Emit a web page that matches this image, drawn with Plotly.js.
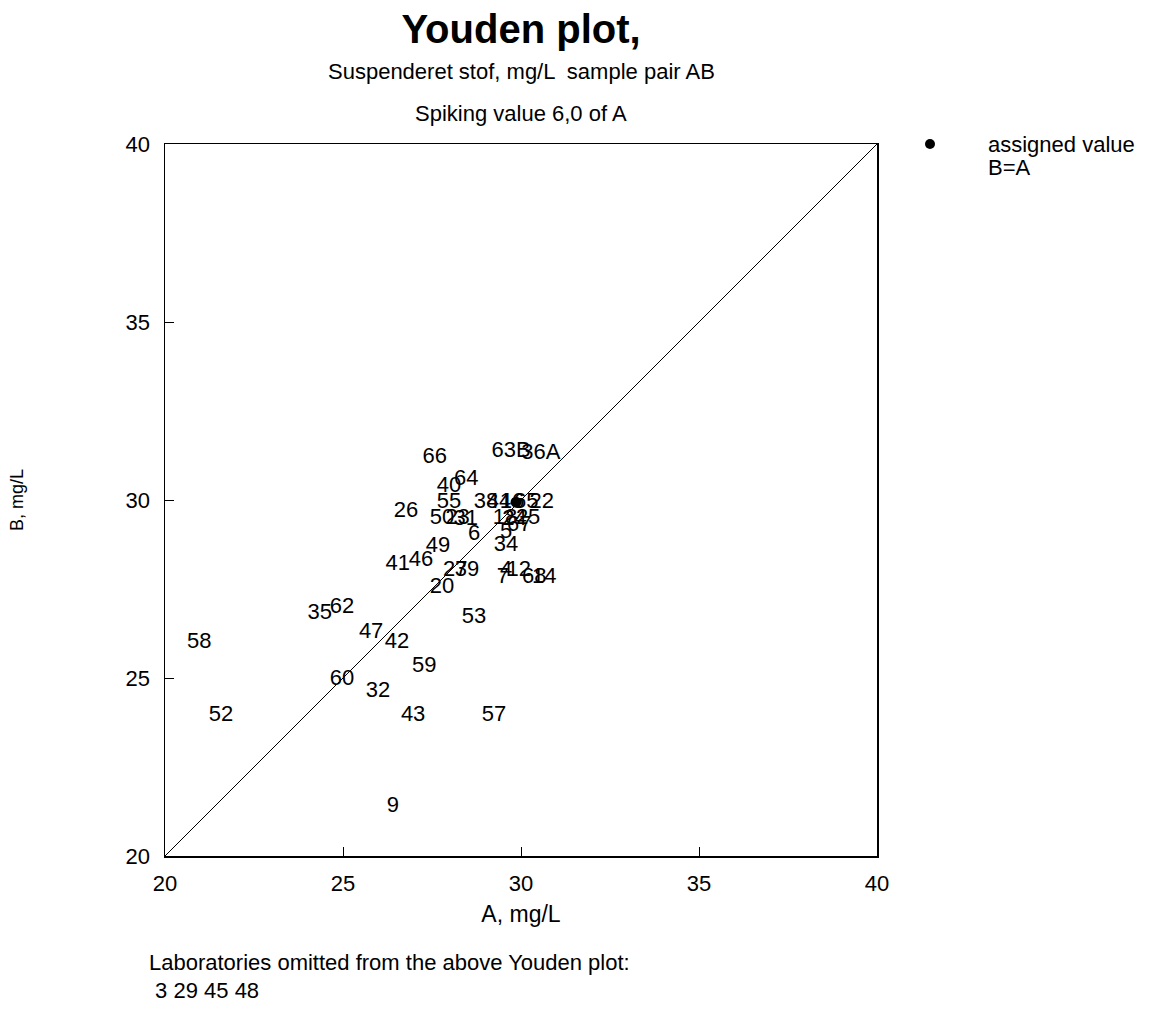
<!DOCTYPE html>
<html>
<head>
<meta charset="utf-8">
<script src="https://cdn.plot.ly/plotly-3.0.1.min.js"></script>
<style>html,body{margin:0;padding:0;background:#fff;}#chart{width:1149px;height:1011px;}</style>
</head>
<body>
<div id="chart"></div>
<script>
// Laboratory results (A, B) and their labels
const labLabels = ["66","63B","36A","64","40","55","26","50","23","31","6",
  "38","44","16","65","22","18","24","25","5","67",
  "34","49","41","46","27","39","20","4","12","7","68","14",
  "53","35","62","47","42","58","59","60","32","52","43","57","9"];
const labA = [27.58,29.72,30.56,28.46,27.98,27.98,26.77,27.78,28.22,28.45,28.68,
  29.02,29.38,29.75,30.15,30.58,29.55,29.82,30.2,29.58,29.95,
  29.58,27.67,26.54,27.19,28.15,28.48,27.78,29.58,29.94,29.49,30.37,30.65,
  28.68,24.35,24.97,25.79,26.52,20.96,27.28,24.97,25.98,21.57,26.97,29.24,26.4];
const labB = [31.18,31.35,31.32,30.59,30.37,29.94,29.69,29.47,29.47,29.45,29.02,
  29.94,29.94,29.94,29.94,29.94,29.47,29.45,29.47,29.08,29.28,
  28.71,28.68,28.2,28.31,28.01,28.01,27.53,28.03,28.03,27.81,27.81,27.81,
  26.69,26.8,26.99,26.29,26.01,26.01,25.31,24.97,24.61,23.96,23.96,23.96,21.38];
const assignedA = [29.86];
const assignedB = [29.94];
const axisRange = [20, 40];
const tickVals = [20, 25, 30, 35, 40];
const omittedLabs = ["3","29","45","48"];

const FONT = "Liberation Sans, Arial, sans-serif";

const traces = [
  {x: axisRange, y: axisRange, mode: "lines", line: {color: "#000", width: 1}, hoverinfo: "skip", showlegend: false},
  {x: labA, y: labB, text: labLabels, mode: "text", textposition: "middle center",
   textfont: {family: FONT, size: 22, color: "#000"}, showlegend: false, cliponaxis: false},
  {x: assignedA, y: assignedB, mode: "markers", marker: {color: "#000", size: 11}, showlegend: false}
];

const axisCommon = {
  range: axisRange, tickvals: tickVals, ticktext: tickVals.map(String),
  ticks: "inside", ticklen: 9, tickwidth: 1, tickcolor: "#000",
  showline: true, linecolor: "#000", linewidth: 1.5, mirror: true,
  showgrid: false, zeroline: false,
  tickfont: {family: FONT, size: 22, color: "#000"}
};

const layout = {
  width: 1149, height: 1011,
  paper_bgcolor: "#fff", plot_bgcolor: "#fff",
  margin: {l: 165, r: 272, t: 144, b: 155},
  showlegend: false,
  title: {text: "<b>Youden plot,</b>", x: 521/1149, xanchor: "center", xref: "container",
          y: 1 - 29/1011, yanchor: "middle", yref: "container",
          font: {family: FONT, size: 40, color: "#000"}},
  xaxis: Object.assign({}, axisCommon, {
    title: {text: "A, mg/L", font: {family: FONT, size: 23, color: "#000"}, standoff: 11},
    ticklabelstandoff: 7
  }),
  yaxis: Object.assign({}, axisCommon, {
    title: {text: "B, mg/L", font: {family: FONT, size: 18, color: "#000"}, standoff: 97},
    ticklabelstandoff: 9
  }),
  shapes: [
    {type: "circle", xref: "paper", yref: "paper", xsizemode: "pixel", ysizemode: "pixel",
     xanchor: (930-165)/712, yanchor: 1, x0: -5, x1: 5, y0: -5, y1: 5,
     fillcolor: "#000", line: {color: "#000", width: 0}}
  ],
  annotations: [
    {text: "Suspenderet stof, mg/L  sample pair AB", xref: "paper", yref: "paper", x: 0.5, y: 1 + (144-72)/712,
     xanchor: "center", yanchor: "middle", showarrow: false, font: {family: FONT, size: 22, color: "#000"}},
    {text: "Spiking value 6,0 of A", xref: "paper", yref: "paper", x: 0.5, y: 1 + (144-113)/712,
     xanchor: "center", yanchor: "middle", showarrow: false, font: {family: FONT, size: 22, color: "#000"}},
    {text: "assigned value", xref: "paper", yref: "paper", x: (986-165)/712, y: 1,
     xanchor: "left", yanchor: "middle", showarrow: false, font: {family: FONT, size: 22, color: "#000"}},
    {text: "B=A", xref: "paper", yref: "paper", x: (986-165)/712, y: 1 - (167-144)/712,
     xanchor: "left", yanchor: "middle", showarrow: false, font: {family: FONT, size: 22, color: "#000"}},
    {text: "Laboratories omitted from the above Youden plot:", xref: "paper", yref: "paper",
     x: (147-165)/712, y: -(963-856)/712, xanchor: "left", yanchor: "middle", showarrow: false,
     font: {family: FONT, size: 22, color: "#000"}},
    {text: "\u00A0" + omittedLabs.join(" "), xref: "paper", yref: "paper",
     x: (147-165)/712, y: -(990-856)/712, xanchor: "left", yanchor: "middle", showarrow: false,
     font: {family: FONT, size: 22, color: "#000"}}
  ]
};

Plotly.newPlot("chart", traces, layout, {displayModeBar: false, staticPlot: true});
</script>
</body>
</html>
